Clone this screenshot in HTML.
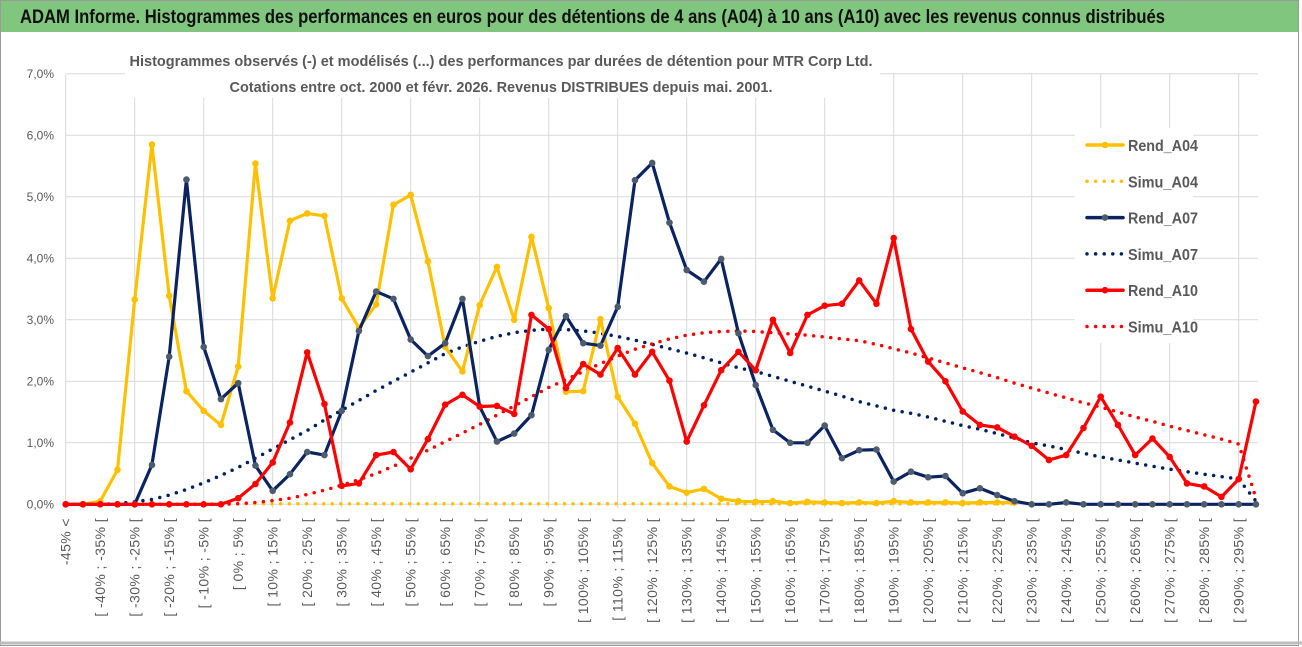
<!DOCTYPE html>
<html><head><meta charset="utf-8"><style>
html,body{margin:0;padding:0;background:#fff;}
svg{display:block;font-family:"Liberation Sans",sans-serif;}
</style></head><body>
<svg id="chart" width="1302" height="647" viewBox="0 0 1302 647" xmlns="http://www.w3.org/2000/svg">
<rect x="0" y="0" width="1302" height="647" fill="#fff"/>
<rect x="0.5" y="0.5" width="1298" height="645" fill="none" stroke="#9a9a9a"/>
<rect x="1" y="1" width="1297" height="31" fill="#80c67f"/>
<text x="20" y="23" font-size="19" font-weight="bold" fill="#111" textLength="1145" lengthAdjust="spacingAndGlyphs">ADAM Informe. Histogrammes des performances en euros pour des détentions de 4 ans (A04) à 10 ans (A10) avec les revenus connus distribués</text>
<line x1="0" y1="643" x2="1302" y2="643" stroke="#bdbdbd" stroke-width="3"/>
<g id="grid"></g>
<g id="yaxis"></g>
<g id="xaxis"></g>
<rect x="125" y="44" width="755" height="54" fill="#fff"/>
<text x="501" y="66" text-anchor="middle" font-size="15" font-weight="bold" fill="#595959" textLength="743" lengthAdjust="spacingAndGlyphs">Histogrammes observés (-) et modélisés (...) des performances par durées de détention pour MTR Corp Ltd.</text>
<text x="501" y="92" text-anchor="middle" font-size="15" font-weight="bold" fill="#595959" textLength="543" lengthAdjust="spacingAndGlyphs">Cotations entre oct. 2000 et févr. 2026. Revenus DISTRIBUES depuis mai. 2001.</text>
<g id="series"></g>
<g id="legend"></g>
</svg>
<script>
const rendA04=[0,0,0.05,0.56,3.33,5.85,3.39,1.84,1.52,1.29,2.24,5.54,3.35,4.61,4.73,4.69,3.35,2.87,3.25,4.87,5.03,3.95,2.56,2.16,3.24,3.86,3.0,4.35,3.19,1.83,1.84,3.01,1.75,1.31,0.67,0.29,0.19,0.25,0.09,0.05,0.04,0.05,0.02,0.04,0.03,0.02,0.03,0.02,0.05,0.03,0.03,0.03,0.02,0.03,0.03,0.03,null,null,null,null,null,null,null,null,null,null,null,null,null,null];
const simuA04=[0,0,0,0,0,0,0,0,0,0,0.01,0.01,0.01,0.01,0.01,0.01,0.01,0.01,0.01,0.01,0.01,0.01,0.01,0.01,0.01,0.01,0.01,0.01,0.01,0.01,0.01,0.01,0.01,0.01,0.01,0.01,0.01,0.01,0.01,0.01,0.01,0.01,0.01,0.01,0.01,0.01,0.01,0.01,0.01,0.01,0.01,0.01,0.01,0.01,0.01,0.01,null,null,null,null,null,null,null,null,null,null,null,null,null,null];
const rendA07=[0,0,0,0,0,0.64,2.40,5.28,2.56,1.71,1.97,0.63,0.22,0.49,0.85,0.80,1.52,2.82,3.46,3.34,2.68,2.41,2.62,3.34,1.59,1.02,1.15,1.45,2.51,3.06,2.62,2.58,3.21,5.27,5.55,4.58,3.81,3.62,3.99,2.78,1.94,1.21,1.0,1.0,1.28,0.75,0.88,0.89,0.37,0.53,0.44,0.46,0.18,0.26,0.15,0.05,0,0,0.03,0,0,0,0,0,0,0,0,0,0,0];
const simuA07=[0,0,0,0.01,0.04,0.08,0.15,0.24,0.35,0.47,0.6,0.75,0.9,1.05,1.2,1.37,1.53,1.69,1.85,2.0,2.15,2.3,2.45,2.56,2.65,2.73,2.79,2.83,2.85,2.84,2.82,2.78,2.73,2.67,2.6,2.53,2.46,2.38,2.3,2.22,2.16,2.08,2.0,1.92,1.84,1.76,1.67,1.6,1.53,1.48,1.42,1.35,1.28,1.22,1.15,1.08,1.0,0.95,0.89,0.83,0.77,0.72,0.67,0.62,0.57,0.53,0.49,0.45,0.41,0.05];
const rendA10=[0,0,0,0,0,0,0,0,0,0,0.1,0.33,0.68,1.33,2.47,1.63,0.30,0.34,0.80,0.85,0.57,1.06,1.62,1.78,1.59,1.60,1.47,3.08,2.85,1.89,2.28,2.11,2.54,2.11,2.48,2.01,1.02,1.61,2.18,2.48,2.18,3.0,2.46,3.08,3.23,3.26,3.64,3.26,4.33,2.85,2.32,2.0,1.51,1.29,1.25,1.10,0.95,0.72,0.80,1.24,1.75,1.29,0.80,1.07,0.77,0.34,0.29,0.12,0.41,1.67];
const simuA10=[0,0,0,0,0,0,0,0,0,0,0.01,0.03,0.06,0.1,0.16,0.23,0.31,0.4,0.5,0.62,0.75,0.88,1.02,1.16,1.3,1.45,1.6,1.75,1.9,2.03,2.16,2.29,2.41,2.52,2.61,2.69,2.75,2.79,2.81,2.82,2.81,2.79,2.77,2.75,2.72,2.69,2.66,2.6,2.53,2.46,2.38,2.3,2.22,2.14,2.06,1.97,1.89,1.81,1.73,1.65,1.58,1.5,1.42,1.35,1.27,1.2,1.13,1.06,0.98,0.1];
const yTicks=[0,1,2,3,4,5,6,7];
const categories=["-45% <"];
for(let i=1;i<70;i++){categories.push("[ "+(-50+5*i)+"% ; "+(-45+5*i)+"% [");}

const NS="http://www.w3.org/2000/svg";
const X0=65.7, DX=17.25, Y0=504.3, DY=61.5;
const xs=i=>X0+DX*i;
const ys=v=>Y0-DY*v;
function mk(tag,attrs,parent){const e=document.createElementNS(NS,tag);for(const k in attrs)e.setAttribute(k,attrs[k]);parent.appendChild(e);return e;}
const grid=document.getElementById('grid'),yax=document.getElementById('yaxis'),xax=document.getElementById('xaxis'),ser=document.getElementById('series'),leg=document.getElementById('legend');
yTicks.forEach(t=>{
  const l=mk('line',{x1:X0,x2:xs(69)+2,y1:ys(t),y2:ys(t),stroke:'#d9d9d9','stroke-width':1},grid);
  
  
  const tx=mk('text',{x:54,y:ys(t)+4,'text-anchor':'end','font-size':12,fill:'#595959'},yax);
  tx.textContent=t.toFixed(1).replace('.',',')+'%';
  
  
});
for(let i=0;i<70;i+=4){
  const l=mk('line',{x1:xs(i),x2:xs(i),y1:ys(7),y2:Y0+4,stroke:'#d9d9d9','stroke-width':1},grid);
  
  
}
categories.forEach((c,i)=>{
  if(i%2) return;
  const tx=mk('text',{x:0,y:0,'text-anchor':'end','font-size':14,'letter-spacing':0.4,fill:'#595959',transform:'translate('+(xs(i)+5)+',518) rotate(-90)'},xax);
  tx.textContent=c;
  
  
});
function pathOf(arr){let d='',pen=false;arr.forEach((v,i)=>{if(v===null){pen=false;return;}d+=(pen?'L':'M')+xs(i).toFixed(1)+','+ys(v).toFixed(1);pen=true;});return d;}
function dotted(arr,color,name){
  const p=mk('path',{d:pathOf(arr),fill:'none',stroke:color,'stroke-width':3.5,'stroke-dasharray':'0 8.6','stroke-linecap':'round'},ser);
  
  
}
function solid(arr,color,mcolor,name){
  const p=mk('path',{d:pathOf(arr),fill:'none',stroke:color,'stroke-width':3.2,'stroke-linejoin':'round'},ser);
  
  
  arr.forEach((v,i)=>{if(v===null)return;
    const c=mk('circle',{cx:xs(i),cy:ys(v),r:3.3,fill:mcolor},ser);
    
    
  });
}
dotted(simuA04,'#ffc000','simu-a04-line');
dotted(simuA07,'#002060','simu-a07-line');
dotted(simuA10,'#ff0000','simu-a10-line');
solid(rendA04,'#ffc000','#ffc000','rend-a04-line');
solid(rendA07,'#0b2461','#4d5b6e','rend-a07-line');
solid(rendA10,'#ff0000','#ff0000','rend-a10-line');
// legend
mk('rect',{x:1075,y:128,width:118,height:215,fill:'#fff'},leg);
const items=[['Rend_A04','#ffc000','#ffc000',false],['Simu_A04','#ffc000',null,true],['Rend_A07','#0b2461','#4d5b6e',false],['Simu_A07','#002060',null,true],['Rend_A10','#ff0000','#ff0000',false],['Simu_A10','#ff0000',null,true]];
items.forEach((it,k)=>{
  const y=145+36.3*k;
  const g=mk('g',{},leg);
  
  
  if(it[3]){mk('line',{x1:1087,x2:1123,y1:y,y2:y,stroke:it[1],'stroke-width':3.5,'stroke-dasharray':'0 8.6','stroke-linecap':'round'},g);}
  else{mk('line',{x1:1087,x2:1123,y1:y,y2:y,stroke:it[1],'stroke-width':3.5,'stroke-linecap':'round'},g);mk('circle',{cx:1105,cy:y,r:3.3,fill:it[2]},g);}
  const t=mk('text',{x:1128,y:y+6,'font-size':16,'font-weight':'bold',fill:'#595959',textLength:70,lengthAdjust:'spacingAndGlyphs'},g);
  t.textContent=it[0];
});
</script>
</body></html>
